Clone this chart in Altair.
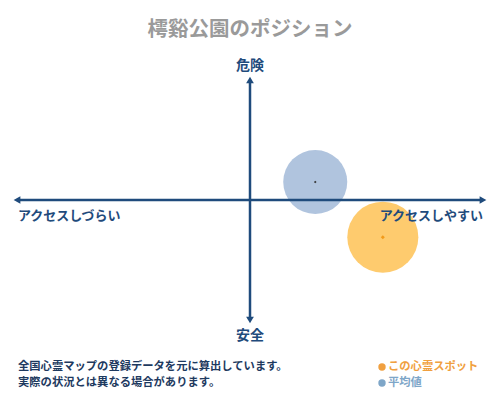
import altair as alt
import pandas as pd

# ---- data ----
series_names = ["平均値", "この心霊スポット"]
access_values = [0.28, 0.57]      # x: アクセスしづらい(-1) .. アクセスしやすい(+1)
danger_values = [0.15, -0.31]     # y: 安全(-1) .. 危険(+1)
bubble_colors = ["#b0c4de", "#fecb6e"]
dot_colors = ["#333333", "#f29a1a"]

title_text = "樗谿公園のポジション"
axis_top = "危険"
axis_bottom = "安全"
axis_left = "アクセスしづらい"
axis_right = "アクセスしやすい"
note_lines = ["全国心霊マップの登録データを元に算出しています。", "実際の状況とは異なる場合があります。"]
legend_labels = ["この心霊スポット", "平均値"]
legend_colors = ["#f0a040", "#7ea6c8"]

NAVY = "#1f4b7c"
FONT = "Noto Sans CJK JP"

xs = alt.Scale(domain=[-1.0386, 1.0386])
ys = alt.Scale(domain=[-1.6, 1.6])

pts = pd.DataFrame({
    "name": series_names,
    "x": access_values,
    "y": danger_values,
    "fill": bubble_colors,
    "dot": dot_colors,
    "size": [4100, 5050],
    "dsize": [7, 16],
})

axes_df = pd.DataFrame({
    "x": [-1.0, 0.0],
    "x2": [1.0, 0.0],
    "y": [0.0, -1.0],
    "y2": [0.0, 1.0],
})

arrow_df = pd.DataFrame({
    "x": [-1.0, 1.0, 0.0, 0.0],
    "y": [0.0, 0.0, 1.0, -1.0],
    "shape": ["triangle-left", "triangle-right", "triangle-up", "triangle-down"],
    "xo": [3, -3, 0, 0],
    "yo": [0, 0, 3, -3],
})

X = alt.X("x:Q", scale=xs, axis=None)
Y = alt.Y("y:Q", scale=ys, axis=None)

bubbles = alt.Chart(pts).mark_circle(opacity=1).encode(
    x=X, y=Y,
    size=alt.Size("size:Q", scale=None, legend=None),
    color=alt.Color("fill:N", scale=None, legend=None),
)

centers = alt.Chart(pts).mark_point(filled=True, opacity=1, shape="diamond").encode(
    x=X, y=Y,
    size=alt.Size("dsize:Q", scale=None, legend=None),
    color=alt.Color("dot:N", scale=None, legend=None),
)

axis_lines = alt.Chart(axes_df).mark_rule(color=NAVY, strokeWidth=2.5).encode(
    x=X, x2="x2:Q", y=Y, y2="y2:Q",
)

arrows = alt.Chart(arrow_df).mark_point(filled=True, opacity=1, color=NAVY, size=60).encode(
    x=X, y=Y,
    shape=alt.Shape("shape:N", scale=None, legend=None),
    xOffset=alt.XOffset("xo:Q", scale=None),
    yOffset=alt.YOffset("yo:Q", scale=None),
)

def txt(text, x, y, size, color, align="center", weight="bold"):
    return alt.Chart(pd.DataFrame({"t": [text]})).mark_text(
        font=FONT, fontSize=size, color=color, align=align, baseline="middle", fontWeight=weight,
    ).encode(text="t:N", x=alt.value(x), y=alt.value(y))

labels = [
    txt(title_text, 242, 22, 20.5, "#9a9a9a"),
    txt(axis_top, 242, 58, 14, NAVY),
    txt(axis_bottom, 242, 328, 14, NAVY),
    txt(axis_left, 10, 208, 13, NAVY, align="left"),
    txt(axis_right, 475, 208, 13, NAVY, align="right"),
    txt(note_lines[0], 10, 359, 11.3, "#1e3a5f", align="left"),
    txt(note_lines[1], 10, 375, 11.3, "#1e3a5f", align="left"),
    txt(legend_labels[0], 380, 359, 11.3, legend_colors[0], align="left"),
    txt(legend_labels[1], 380, 375, 11.3, legend_colors[1], align="left"),
]

legend_df = pd.DataFrame({"c": legend_colors, "yy": [359, 375]})
legend_dots = alt.Chart(legend_df).mark_circle(opacity=1, size=55).encode(
    x=alt.value(374), y=alt.Y("yy:Q", scale=None),
    color=alt.Color("c:N", scale=None, legend=None),
)

chart = alt.layer(bubbles, centers, axis_lines, arrows, *labels, legend_dots).properties(
    width=484, height=384, padding=0, autosize=alt.AutoSizeParams(type="none"),
).configure_view(stroke=None)

chart.save("out.html", embed_options={"renderer": "svg", "actions": False})
